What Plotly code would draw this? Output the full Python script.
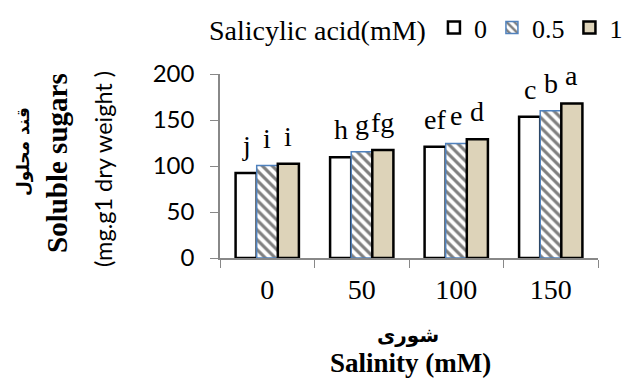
import plotly.graph_objects as go

salinity = ["0", "50", "100", "150"]
sa_levels = ["0", "0.5", "1"]
sa0 = [92.5, 109.5, 121, 153.5]
sa05 = [100.5, 115.5, 124.5, 160]
sa1 = [102.5, 117.5, 129, 168]
letters0 = ["j", "h", "ef", "c"]
letters05 = ["i", "g", "e", "b"]
letters1 = ["i", "fg", "d", "a"]

serif = "Liberation Serif, Times New Roman, serif"
sans = "Lato, Carlito, sans-serif"
arab = "DejaVu Sans"

W, H = 627, 380
ML, MR, MT, MB = 220, 29, 74, 122
BARGAP = 0.33
n_series = 3
cat_px = (W - ML - MR) / len(salinity)
bar_px = cat_px * (1 - BARGAP) / n_series

fig = go.Figure()
styles = [
    dict(marker=dict(color="white", line=dict(color="black", width=2.5))),
    dict(marker=dict(color="white", line=dict(color="#4f81bd", width=1.5),
                     pattern=dict(shape="\\", fgcolor="black", bgcolor="white", size=7, solidity=0.45))),
    dict(marker=dict(color="#ddd3b9", line=dict(color="black", width=2.5))),
]
series = [sa0, sa05, sa1]
letter_sets = [letters0, letters05, letters1]
for name, vals, st in zip(sa_levels, series, styles):
    fig.add_trace(go.Bar(x=salinity, y=vals, name=name, **st))

annotations = []
for j, (vals, lets) in enumerate(zip(series, letter_sets)):
    for ci, (v, t) in enumerate(zip(vals, lets)):
        annotations.append(dict(
            x=ci, y=v, xref="x", yref="y", text=t, showarrow=False,
            xanchor="center", yanchor="bottom",
            xshift=(j - (n_series - 1) / 2) * bar_px, yshift=10,
            font=dict(family=serif, size=28, color="black")))

def px_x(p):
    return (p - ML) / (W - ML - MR)

def px_y(p):
    return (H - MB - p) / (H - MT - MB)

annotations += [
    dict(text="<b>قند محلول</b>", xref="paper", yref="paper", x=px_x(23), y=px_y(152),
         xanchor="center", yanchor="middle",
         textangle=-90, showarrow=False, font=dict(family=arab, size=17, color="black")),
    dict(text="<b>Soluble sugars</b>", xref="paper", yref="paper", x=px_x(57), y=px_y(163),
         xanchor="center", yanchor="middle",
         textangle=-90, showarrow=False, font=dict(family=serif, size=29, color="black")),
    dict(text="(mg.g1 dry weight )", xref="paper", yref="paper", x=px_x(103), y=px_y(169),
         xanchor="center", yanchor="middle",
         textangle=-90, showarrow=False, font=dict(family=sans, size=23.5, color="black")),
    dict(text="<b>شوری</b>", xref="paper", yref="paper", x=px_x(408), y=px_y(335),
         xanchor="center", yanchor="middle",
         showarrow=False, font=dict(family=arab, size=20, color="black")),
    dict(text="<b>Salinity (mM)</b>", xref="paper", yref="paper", x=px_x(410), y=px_y(363),
         xanchor="center", yanchor="middle",
         showarrow=False, font=dict(family=serif, size=27, color="black")),
]

fig.update_layout(
    width=W, height=H,
    margin=dict(l=ML, r=MR, t=MT, b=MB, autoexpand=False),
    paper_bgcolor="white", plot_bgcolor="white",
    font=dict(family=serif, size=26, color="black"),
    barmode="group", bargap=BARGAP, bargroupgap=0,
    showlegend=True,
    legend=dict(orientation="h", x=px_x(207), xanchor="left", y=px_y(4), yanchor="top",
                title=dict(text="Salicylic acid(mM)", side="left",
                           font=dict(family=serif, size=28, color="black")),
                font=dict(family=serif, size=26, color="black"),
                itemwidth=30, tracegroupgap=0),
    xaxis=dict(type="category", showline=True, linecolor="#888888", linewidth=1.5,
               ticks="outside", tickson="boundaries", ticklen=8, tickcolor="#888888",
               tickfont=dict(family=serif, size=28, color="black"), showgrid=False,
               ticklabelstandoff=6),
    yaxis=dict(range=[0, 200], tickvals=[0, 50, 100, 150, 200], showline=True,
               linecolor="#888888", linewidth=1.5, ticks="outside", ticklen=8,
               tickcolor="#888888", showgrid=False, zeroline=False,
               tickfont=dict(family=sans, size=24, color="black"), ticklabelstandoff=11),
    annotations=annotations,
)
fig.write_html("out.html", config={"displayModeBar": False},
               post_script="document.body.style.margin='0';")
